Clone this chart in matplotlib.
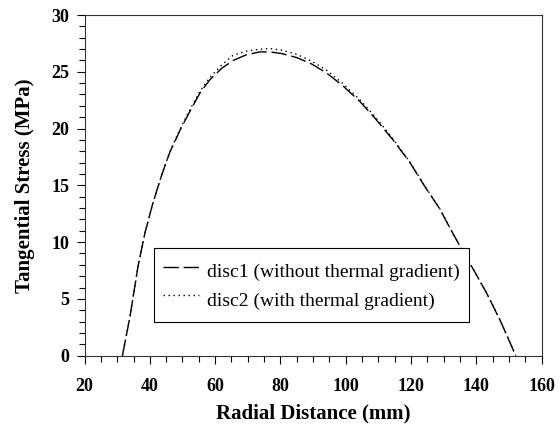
import matplotlib
matplotlib.use('Agg')
import matplotlib.pyplot as plt
from matplotlib.ticker import MultipleLocator

plt.rcParams['font.family'] = ['Liberation Serif', 'DejaVu Serif']

# values
radius = [31.6, 33.9, 36.4, 38.5, 40.8, 43.5, 46.1, 49.5, 52.8, 55.5, 58.4,
          62.0, 65.5, 69.6, 73.7, 76.8, 80.5, 85.0, 89.5, 94.1, 99.0, 104.3,
          109.0, 114.5, 119.7, 124.0, 128.9, 132.0, 135.5, 139.5, 143.2,
          147.5, 152.1]
disc1 = [0.0, 3.4, 7.9, 10.8, 13.3, 15.8, 17.9, 20.0, 21.8, 23.2, 24.3,
         25.3, 26.0, 26.5, 26.75, 26.75, 26.6, 26.25, 25.7, 24.9, 23.8, 22.4,
         20.9, 19.0, 17.0, 15.0, 12.9, 11.2, 9.4, 7.4, 5.5,
         3.0, 0.0]
disc2 = [0.0, 3.4, 7.9, 10.8, 13.3, 15.8, 17.95, 20.1, 21.95, 23.35, 24.5,
         25.6, 26.45, 26.83, 26.98, 27.05, 26.9, 26.54, 25.95, 25.15, 24.0, 22.55,
         21.05, 19.1, 17.05, 15.05, 12.9, 11.2, 9.4, 7.4, 5.5,
         3.0, 0.0]
labels = ['disc1 (without thermal gradient)', 'disc2 (with thermal gradient)']

fig = plt.figure(figsize=(5.6, 4.29), dpi=100)
ax = fig.add_axes([0.151, 0.171, 0.816, 0.794])

ax.plot(radius, disc1, color='black', lw=1.0, ls=(0, (11, 3.5)), label=labels[0])
ax.plot(radius, disc2, color='black', lw=1.0, ls=(0, (1, 2.6)), label=labels[1])

ax.set_xlim(20, 160)
ax.set_ylim(0, 30)
ax.xaxis.set_major_locator(MultipleLocator(20))
ax.xaxis.set_minor_locator(MultipleLocator(5))
ax.yaxis.set_major_locator(MultipleLocator(5))
ax.yaxis.set_minor_locator(MultipleLocator(1))
ax.tick_params(which='both', direction='out', top=False, right=False, width=0.8)
ax.tick_params(which='major', length=6, labelsize=13)
ax.tick_params(which='minor', length=4)
ax.tick_params(axis='x', which='major', pad=10)
ax.tick_params(axis='y', which='major', pad=5)
for t in ax.get_xticklabels() + ax.get_yticklabels():
    t.set_fontweight('bold')
for s in ax.spines.values():
    s.set_linewidth(0.8)
    s.set_color('#333333')

ax.set_xlabel('Radial Distance (mm)', fontsize=15, fontweight='bold', labelpad=6)
ax.set_ylabel('Tangential Stress (MPa)', fontsize=15, fontweight='bold', labelpad=12)

leg = ax.legend(loc='upper left', bbox_to_anchor=(0.152, 0.315), fontsize=14,
                frameon=True, fancybox=False, edgecolor='black', handlelength=1.85,
                handleheight=1.85, borderpad=0.45, labelspacing=0.0,
                handletextpad=0.45, borderaxespad=0, framealpha=1)
leg.get_frame().set_linewidth(0.8)

fig.savefig('out.png', dpi=100)
